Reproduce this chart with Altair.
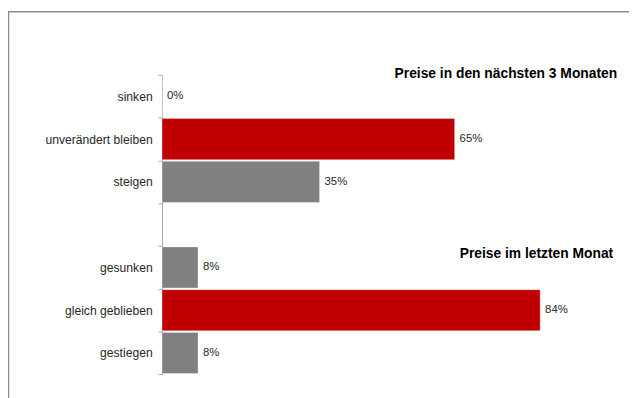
import altair as alt
import pandas as pd

categories = ["sinken", "unverändert bleiben", "steigen", " ",
              "gesunken", "gleich geblieben", "gestiegen"]
values = [0, 65, 35, None, 8, 84, 8]
groups = ["other", "main", "other", None, "other", "main", "other"]
titles = ["Preise in den nächsten 3 Monaten", "Preise im letzten Monat"]

df = pd.DataFrame({"cat": categories, "val": values, "grp": groups})
df_bars = df.dropna()

W, H = 456, 303.3
FONT = "Liberation Sans"

y_enc = alt.Y("cat:N", sort=categories,
              scale=alt.Scale(domain=categories, paddingInner=0, paddingOuter=0),
              axis=alt.Axis(title=None, tickBand="extent", tickSize=4,
                            domainColor="#a6a6a6", tickColor="#a6a6a6",
                            labelFont=FONT, labelFontSize=12.3, labelColor="#262626",
                            labelPadding=6, domainWidth=1, tickWidth=1))
x_enc = alt.X("val:Q", scale=alt.Scale(domain=[0, 100]), axis=None)

bars = alt.Chart(df_bars).mark_bar(
    height={"band": 0.96}, stroke="white", strokeOpacity=0.35, strokeWidth=1
).encode(
    x=x_enc, y=y_enc,
    color=alt.Color("grp:N", scale=alt.Scale(domain=["main", "other"],
                                              range=["#C00000", "#808080"]),
                    legend=None),
)

labels = alt.Chart(df_bars).transform_calculate(
    lbl="datum.val + '%'"
).mark_text(
    align="left", dx=5, font=FONT, fontSize=11.5, color="#262626"
).encode(
    x=x_enc, y=alt.Y("cat:N", sort=categories),
    text="lbl:N",
)

tdf = pd.DataFrame({"t": titles})
title1 = alt.Chart(tdf).transform_filter(alt.datum.t == titles[0]).mark_text(
    align="right", baseline="middle", font=FONT, fontSize=14, fontWeight="bold",
    color="#000000"
).encode(x=alt.value(461), y=alt.value(-0.5), text="t:N")
title2 = alt.Chart(tdf).transform_filter(alt.datum.t == titles[1]).mark_text(
    align="right", baseline="middle", font=FONT, fontSize=14, fontWeight="bold",
    color="#000000"
).encode(x=alt.value(457), y=alt.value(181), text="t:N")

dummy = pd.DataFrame({"d": [0]})
frame_left = alt.Chart(dummy).mark_rule(color="#8c8c8c", strokeWidth=1.5).encode(
    x=alt.value(-155.5), y=alt.value(-64), y2=alt.value(330))
frame_top = alt.Chart(dummy).mark_rule(color="#8c8c8c", strokeWidth=1.5).encode(
    x=alt.value(-156), x2=alt.value(480), y=alt.value(-64))

chart = alt.layer(bars, labels, title1, title2, frame_left, frame_top).properties(
    width=W, height=H,
    autosize=alt.AutoSizeParams(type="none"),
    padding={"left": 156, "top": 65.3, "right": 17, "bottom": 21},
).configure_view(stroke=None)

chart.save("out.html", embed_options={"renderer": "svg", "actions": False})
